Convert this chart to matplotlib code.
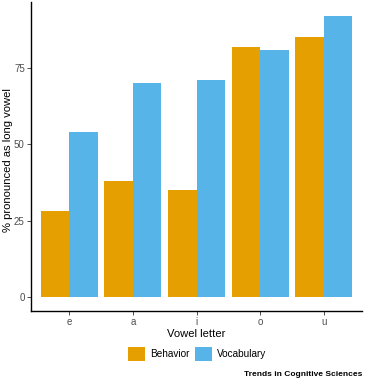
import matplotlib.pyplot as plt
import numpy as np
from matplotlib.patches import Patch

# Data
vowels = ['e', 'a', 'i', 'o', 'u']
behavior = [28, 38, 35, 82, 85]
vocabulary = [54, 70, 71, 81, 92]

orange = '#E69F00'
blue = '#56B4E9'

plt.rcParams['font.family'] = ['Liberation Sans', 'DejaVu Sans']

fig = plt.figure(figsize=(3.65, 3.81), dpi=100)
ax = fig.add_axes([31 / 365, 1 - 311 / 381, (362 - 31) / 365, (311 - 2) / 381])

x = np.arange(1, len(vowels) + 1)
w = 0.45
ax.bar(x - w / 2, behavior, width=w, color=orange, linewidth=0)
ax.bar(x + w / 2, vocabulary, width=w, color=blue, linewidth=0)

ax.set_xlim(0.4, 5.6)
ax.set_ylim(-4.6, 96.6)
ax.set_xticks(x)
ax.set_xticklabels(vowels)
ax.set_yticks([0, 25, 50, 75])

for s in ['top', 'right']:
    ax.spines[s].set_visible(False)
for s in ['left', 'bottom']:
    ax.spines[s].set_linewidth(1.0)
    ax.spines[s].set_color('black')

ax.tick_params(axis='both', length=3, width=0.6, color='#333333',
               labelcolor='#4D4D4D', labelsize=7.0, pad=1.5)

ax.set_xlabel('Vowel letter', fontsize=8.1, labelpad=1.5)
ax.set_ylabel('% pronounced as long vowel', fontsize=8.1)
ax.yaxis.set_label_coords(-0.054, 0.49)

handles = [Patch(facecolor=orange, label='Behavior'),
           Patch(facecolor=blue, label='Vocabulary')]
fig.legend(handles=handles, loc='center', bbox_to_anchor=(197 / 365, 1 - 354 / 381),
           ncol=2, frameon=False, fontsize=7.2, handlelength=1.7, handleheight=1.7,
           handletextpad=0.5, columnspacing=0.6, borderaxespad=0)

fig.text(362 / 365, 1 - 374 / 381, 'Trends in Cognitive Sciences', ha='right', va='center',
         fontsize=6.0, fontweight='bold', color='black')

fig.savefig('out.png', dpi=100)
